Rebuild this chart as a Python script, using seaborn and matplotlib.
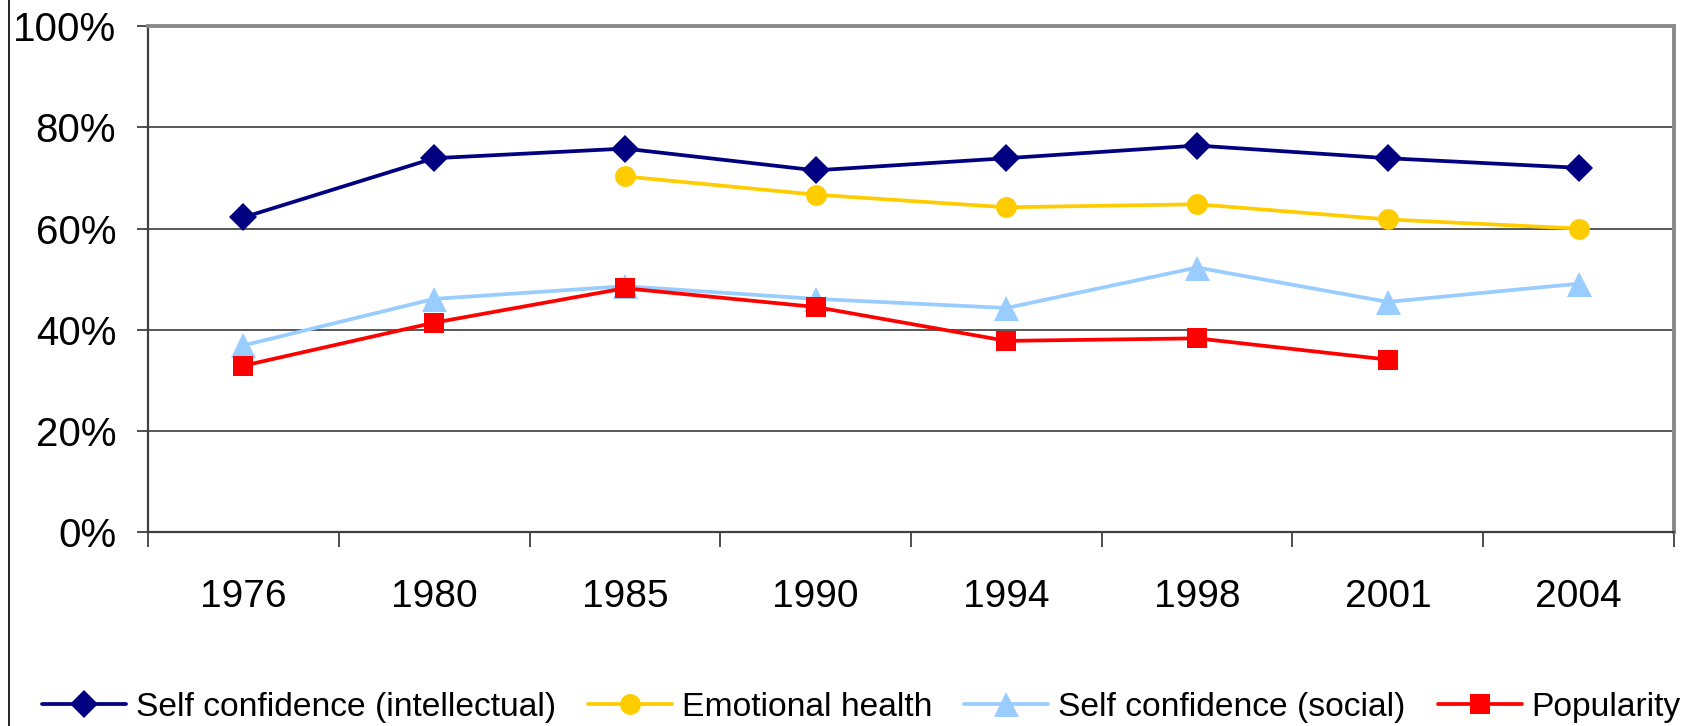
import numpy as np
import pandas as pd
import matplotlib
matplotlib.use("Agg")
import matplotlib.pyplot as plt
import seaborn as sns
from matplotlib.ticker import PercentFormatter, FixedLocator
from matplotlib.lines import Line2D

# data (percent)
years = ["1976", "1980", "1985", "1990", "1994", "1998", "2001", "2004"]
intellectual = [62.2, 73.9, 75.8, 71.5, 73.9, 76.4, 73.9, 72.0]
emotional = [np.nan, np.nan, 70.3, 66.7, 64.2, 64.8, 61.8, 60.0]
social = [36.9, 46.1, 48.6, 46.1, 44.3, 52.3, 45.5, 49.1]
popularity = [32.9, 41.4, 48.2, 44.5, 37.8, 38.3, 34.1, np.nan]

series_names = ["Self confidence (intellectual)", "Emotional health",
                "Self confidence (social)", "Popularity"]
series_values = [intellectual, emotional, social, popularity]
colors = ["#000080", "#FFCC00", "#99CCFF", "#FF0000"]
markers = ["D", "o", "^", "s"]
marker_sizes = [14, 15, 18, 15]

sns.set_style("white")
plt.rcParams["font.family"] = ["Liberation Sans", "DejaVu Sans"]
plt.rcParams["text.color"] = "black"
plt.rcParams["xtick.color"] = "black"
plt.rcParams["ytick.color"] = "black"

fig = plt.figure(figsize=(16.9, 7.26), dpi=100)
ax = fig.add_axes([0.0876, 0.267, 0.9029, 0.697])

handles = []
for name, vals, col, mk, ms in zip(series_names, series_values, colors, markers, marker_sizes):
    df = pd.DataFrame({"year": years, "value": vals}).dropna()
    sns.lineplot(data=df, x="year", y="value", ax=ax, color=col, linewidth=2.7,
                 marker=mk, markersize=ms, markeredgewidth=0, sort=False)
    handles.append(Line2D([], [], color=col, linewidth=2.7, marker=mk,
                          markersize=ms, markeredgewidth=0))

ax.set_xlim(-0.5, len(years) - 0.5)
ax.set_ylim(0, 100)
ax.set_xlabel("")
ax.set_ylabel("")

# y axis
ax.set_yticks([0, 20, 40, 60, 80, 100])
ax.yaxis.set_major_formatter(PercentFormatter(xmax=100, decimals=0))
ax.tick_params(axis="y", which="major", length=8, width=1.3, color="#404040",
               pad=15, labelsize=29, left=True, labelcolor="black")
ax.yaxis.grid(True, color="#4a4a4a", linewidth=1.3)
ax.xaxis.grid(False)

# x axis: labels centred, tick marks between categories
ax.set_xticks(range(len(years)))
ax.set_xticklabels(years)
ax.xaxis.set_minor_locator(FixedLocator(np.arange(-0.5, len(years), 1.0)))
ax.tick_params(axis="x", which="major", length=0, pad=34, labelsize=28,
               labelcolor="black")
ax.tick_params(axis="x", which="minor", length=11, width=1.3, color="#404040",
               bottom=True)

for side in ["left", "bottom"]:
    ax.spines[side].set_color("#404040")
    ax.spines[side].set_linewidth(1.6)
for side in ["top", "right"]:
    ax.spines[side].set_color("#8a8a8a")
    ax.spines[side].set_linewidth(2.8)

# thin frame line at the far left of the chart area
fig.add_artist(Line2D([0.0055, 0.0055], [0, 1], color="black", linewidth=1.2,
                      transform=fig.transFigure))

fig.legend(handles, series_names, loc="center", bbox_to_anchor=(0.5096, 0.026),
           ncol=4, frameon=False, fontsize=24.2, handlelength=2.5,
           handletextpad=0.3, columnspacing=0.95, borderaxespad=0,
           labelcolor="black")

fig.savefig("out.png", dpi=100)
